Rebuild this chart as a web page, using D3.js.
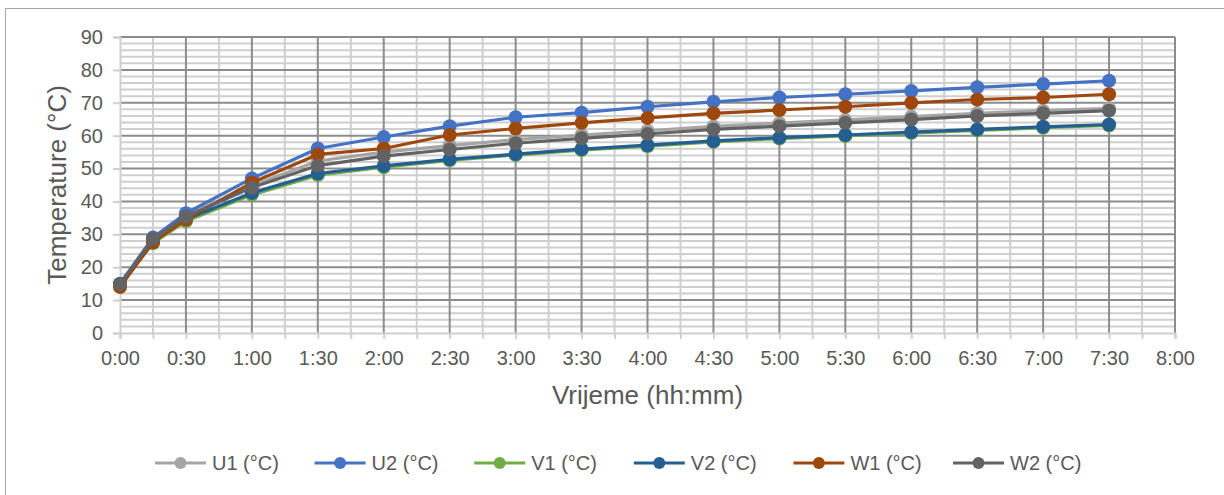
<!DOCTYPE html>
<html><head><meta charset="utf-8">
<script src="https://cdn.jsdelivr.net/npm/d3@7"></script>
<style>body{margin:0;background:#fff}svg{display:block}text{font-family:"Liberation Sans",Arial,sans-serif;fill:#595959}</style>
</head><body><svg id="c" width="1224" height="495"></svg>
<script>
const times = [0,15,30,60,90,120,150,180,210,240,270,300,330,360,390,420,450];
const xTicks = [0,30,60,90,120,150,180,210,240,270,300,330,360,390,420,450,480];
const yTicks = [0,10,20,30,40,50,60,70,80,90];
const seriesNames = ["U1 (°C)","U2 (°C)","V1 (°C)","V2 (°C)","W1 (°C)","W2 (°C)"];
const seriesColors = ["#A5A5A5","#4472C4","#70AD47","#255E91","#9E480E","#636363"];
const U1 = [14.8,29.0,35.8,44.8,52.3,55.0,57.0,58.8,60.2,61.5,62.8,63.8,64.8,65.8,66.8,67.6,68.3];
const U2 = [15.0,29.0,36.4,47.0,56.1,59.6,62.9,65.6,67.0,68.8,70.3,71.6,72.6,73.6,74.7,75.7,76.7];
const V1 = [14.6,27.3,34.0,42.0,48.0,50.4,52.5,54.1,55.6,56.8,58.1,59.1,59.9,60.8,61.6,62.4,63.1];
const V2 = [14.8,28.0,34.6,42.6,48.5,50.8,52.8,54.4,55.9,57.1,58.4,59.4,60.2,61.1,61.9,62.7,63.4];
const W1 = [14.0,27.6,34.5,45.7,54.3,56.1,60.2,62.2,63.9,65.4,66.8,67.8,68.8,70.0,71.0,71.6,72.6];
const W2 = [14.8,28.6,35.4,44.2,50.9,53.8,55.8,57.7,59.2,60.5,61.9,62.9,63.9,64.9,66.0,66.8,67.6];
const seriesValues = [U1,U2,V1,V2,W1,W2];

const svg = d3.select("#c");
svg.append("rect").attr("x",5.5).attr("y",8.5).attr("width",1230).attr("height",500)
  .attr("fill","none").attr("stroke","#A6A6A6").attr("stroke-width",1);

const x = d3.scaleLinear().domain([0,480]).range([120,1175]);
const y = d3.scaleLinear().domain([0,90]).range([333,37]);
const fmt = m => Math.floor(m/60)+":"+String(m%60).padStart(2,"0");

const g = svg.append("g");
// minor horizontal grid
g.selectAll(".hmin").data(d3.range(0,91,2).filter(v=>v%10!==0)).join("line")
  .attr("x1",x(0)).attr("x2",x(480)).attr("y1",d=>y(d)).attr("y2",d=>y(d))
  .attr("stroke","#CFCFCF").attr("stroke-width",2);
// minor vertical grid
g.selectAll(".vmin").data(d3.range(15,480,30)).join("line")
  .attr("x1",d=>x(d)).attr("x2",d=>x(d)).attr("y1",y(0)).attr("y2",y(90))
  .attr("stroke","#CFCFCF").attr("stroke-width",2);
// major horizontal grid
g.selectAll(".hmaj").data(yTicks.filter(v=>v>0)).join("line")
  .attr("x1",x(0)).attr("x2",x(480)).attr("y1",d=>y(d)).attr("y2",d=>y(d))
  .attr("stroke","#8C8C8C").attr("stroke-width",2);
// major vertical grid
g.selectAll(".vmaj").data(xTicks.filter(v=>v>0)).join("line")
  .attr("x1",d=>x(d)).attr("x2",d=>x(d)).attr("y1",y(0)).attr("y2",y(90))
  .attr("stroke","#8C8C8C").attr("stroke-width",2);

// y axis
const ya = svg.append("g").attr("transform",`translate(${x(0)},0)`)
  .call(d3.axisLeft(y).tickValues(yTicks).tickSize(7).tickPadding(10));
ya.select(".domain").attr("stroke","#CFCFCF").attr("stroke-width",2);
ya.selectAll(".tick line").attr("stroke","#CFCFCF").attr("stroke-width",2);
ya.selectAll("text").style("font-size","20px").attr("fill","#595959");

// x axis
const xa = svg.append("g").attr("transform",`translate(0,${y(0)})`)
  .call(d3.axisBottom(x).tickValues(d3.range(0,481,15)).tickFormat(d=>d%30===0?fmt(d):"").tickSize(6).tickPadding(12));
xa.select(".domain").attr("stroke","#CFCFCF").attr("stroke-width",2);
xa.selectAll(".tick line").attr("stroke","#CFCFCF").attr("stroke-width",2);
xa.selectAll("text").style("font-size","20px").attr("fill","#595959");

// titles
svg.append("text").attr("x",(x(0)+x(480))/2).attr("y",404).attr("text-anchor","middle")
  .style("font-size","26px").text("Vrijeme (hh:mm)");
svg.append("text").attr("transform",`translate(66,${(y(0)+y(90))/2}) rotate(-90)`)
  .attr("text-anchor","middle").style("font-size","26px").text("Temperature (°C)");

// series
const line = d3.line().x((d,i)=>x(times[i])).y(d=>y(d));
seriesValues.forEach((vals,k)=>{
  const sg = svg.append("g");
  sg.append("path").datum(vals).attr("d",line).attr("fill","none")
    .attr("stroke",seriesColors[k]).attr("stroke-width",3.2).attr("stroke-linejoin","round");
  sg.selectAll("circle").data(vals).join("circle")
    .attr("cx",(d,i)=>x(times[i])).attr("cy",d=>y(d)).attr("r",7).attr("fill",seriesColors[k]);
});

// legend
const lg = svg.append("g");
seriesNames.forEach((n,k)=>{
  const x0 = 155 + k*159.6, cy = 463;
  lg.append("line").attr("x1",x0).attr("x2",x0+51).attr("y1",cy).attr("y2",cy)
    .attr("stroke",seriesColors[k]).attr("stroke-width",3.2);
  lg.append("circle").attr("cx",x0+25.5).attr("cy",cy).attr("r",6).attr("fill",seriesColors[k]);
  lg.append("text").attr("x",x0+57).attr("y",cy+7).style("font-size",
    "20px").text(n);
});
</script></body></html>
